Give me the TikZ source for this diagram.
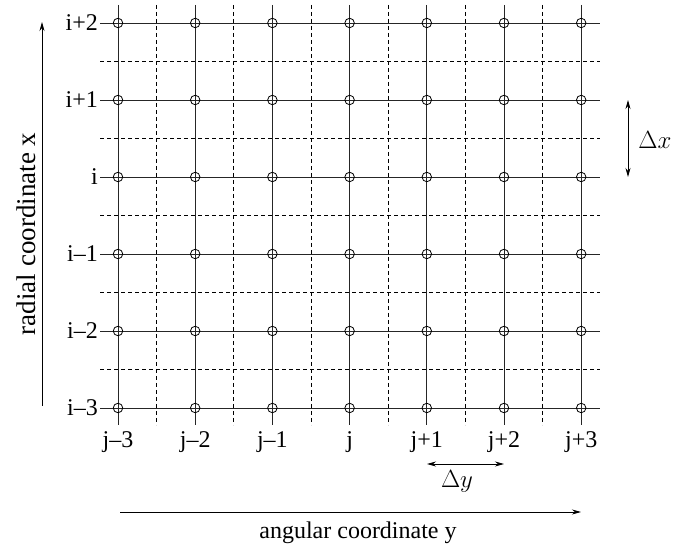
\documentclass[tikz,border=0pt]{standalone}
\usepackage{fontspec}
\setmainfont{Liberation Serif}
\usepackage{amsmath}
\usetikzlibrary{arrows.meta,positioning}
\tikzset{
  sl/.style={line width=0.8pt,black!85},
  dl/.style={line width=0.7pt,black,dash pattern=on 4pt off 3pt},
  pt/.style={circle,draw,line width=0.8pt,minimum size=9.5pt,inner sep=0pt},
  lb/.style={font=\fontsize{24}{27}\selectfont,inner sep=0pt},
  ml/.style={font=\fontsize{25}{28}\selectfont,inner sep=0pt},
  ar/.style={-{Stealth[length=9pt,width=5pt]},line width=0.8pt},
  dar/.style={{Stealth[length=9pt,width=5pt]}-{Stealth[length=9pt,width=5pt]},line width=0.8pt}
}
\begin{document}
\begin{tikzpicture}[x=1pt,y=-1pt]
\useasboundingbox (0,0) rectangle (673,548);
\foreach \r in {0,...,4}{\draw[dl] (100,{61.5+77*\r})--(600,{61.5+77*\r});}
\foreach \c in {0,...,5}{\draw[dl] ({156.6+77.2*\c},5)--({156.6+77.2*\c},425);}
\foreach \r in {0,...,5}{\draw[sl] (100,{23+77*\r})--(600,{23+77*\r});}
\foreach \c in {0,...,6}{\draw[sl] ({118+77.2*\c},5)--({118+77.2*\c},425);}
\foreach \r in {0,...,5}{
  \foreach \c in {0,...,6}{\node[pt] (p\r\c) at ({118+77.2*\c},{23+77*\r}) {};}
}
\foreach \r/\t in {0/i+2,1/i+1,2/i,3/i--1,4/i--2,5/i--3}{
  \node[lb,anchor=east] (ri\r) at (98,{23+77*\r}) {\t};
}
\foreach \c/\t in {0/j--3,1/j--2,2/j--1,3/j,4/j+1,5/j+2,6/j+3}{
  \node[lb,anchor=north] (cj\c) at ({118+77.2*\c},431) {\t};
}
\coordinate (dxt) at (628,100);
\coordinate (dxb) at (628,177);
\draw[dar] (dxt)--(dxb);
\node[ml] (dx) at (655,140) {$\Delta x$};
\coordinate (dyl) at (427,464);
\coordinate (dyr) at (504,464);
\draw[dar] (dyl)--(dyr);
\node[ml] (dy) at (457,481) {$\Delta y$};
\coordinate (rb) at (42,406);
\coordinate (rt) at (42,22);
\draw[ar] (rb)--(rt);
\node[font=\fontsize{27}{29}\selectfont,inner sep=0pt,rotate=90] (rl) at (26,234) {radial coordinate x};
\coordinate (al) at (120,512);
\coordinate (ae) at (581,512);
\draw[ar] (al)--(ae);
\node[lb] (al2) at (358,533) {angular coordinate y};
\end{tikzpicture}
\end{document}
